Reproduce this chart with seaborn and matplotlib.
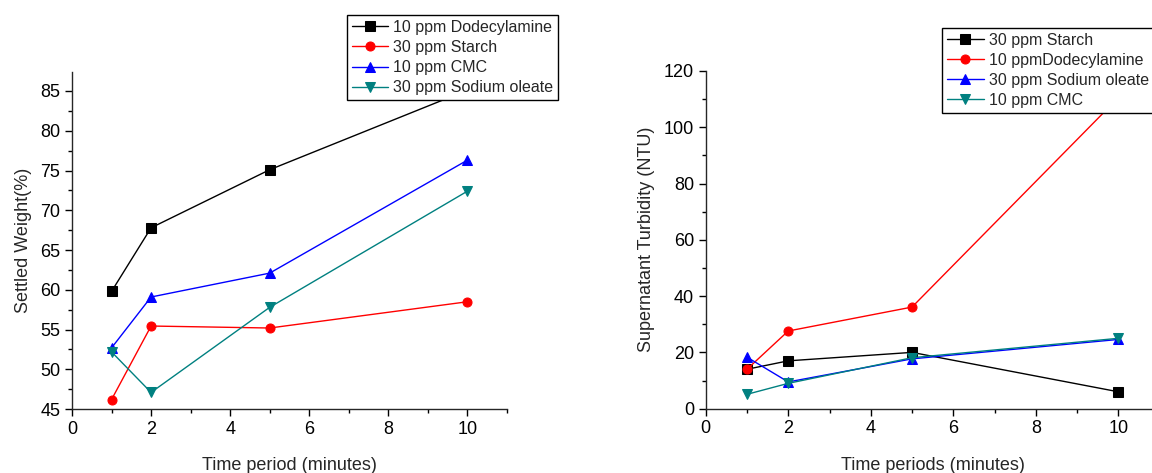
import matplotlib
matplotlib.use("Agg")
import matplotlib.pyplot as plt
import seaborn as sns
import pandas as pd
from matplotlib.ticker import MultipleLocator

sns.set_theme(style="ticks")
plt.rcParams['font.family'] = ['Liberation Sans', 'DejaVu Sans']

time = [1, 2, 5, 10]

# Left panel: settled weight (%)
left_labels = ["10 ppm Dodecylamine", "30 ppm Starch", "10 ppm CMC", "30 ppm Sodium oleate"]
left_dodecylamine = [59.8, 67.8, 75.1, 85.1]
left_starch = [46.2, 55.45, 55.2, 58.5]
left_cmc = [52.7, 59.1, 62.1, 76.3]
left_oleate = [52.2, 47.1, 57.8, 72.4]

# Right panel: supernatant turbidity (NTU)
right_labels = ["30 ppm Starch", "10 ppmDodecylamine", "30 ppm Sodium oleate", "10 ppm CMC"]
right_starch = [14.0, 17.0, 20.0, 6.0]
right_dodecylamine = [14.0, 27.6, 36.1, 110.5]
right_oleate = [18.3, 9.5, 17.7, 24.6]
right_cmc = [5.1, 9.0, 18.1, 25.0]

colors = ["#000000", "#FF0000", "#0000FF", "#008080"]
markers = ["s", "o", "^", "v"]

fig = plt.figure(figsize=(11.52, 4.73), dpi=100)
ax1 = fig.add_axes([0.0625, 0.135, 0.3775, 0.713])
ax2 = fig.add_axes([0.6126, 0.136, 0.394, 0.714])

def draw(ax, series, labels):
    for vals, lab, c, m in zip(series, labels, colors, markers):
        df = pd.DataFrame({"t": time, "v": vals})
        sns.lineplot(data=df, x="t", y="v", ax=ax, color=c, marker=m,
                     markersize=6.5, markeredgecolor=c, linewidth=1,
                     label=lab, legend=False, clip_on=True)

draw(ax1, [left_dodecylamine, left_starch, left_cmc, left_oleate], left_labels)
draw(ax2, [right_starch, right_dodecylamine, right_oleate, right_cmc], right_labels)

tick_fs = 13
for ax in (ax1, ax2):
    ax.spines['top'].set_visible(False)
    ax.spines['right'].set_visible(False)
    ax.spines['left'].set_linewidth(1)
    ax.spines['bottom'].set_linewidth(1)
    ax.set_xlim(0, 11)
    ax.xaxis.set_major_locator(MultipleLocator(2))
    ax.xaxis.set_minor_locator(MultipleLocator(1))
    ax.tick_params(axis='both', which='major', direction='out', length=5, width=1,
                   labelsize=tick_fs, color='black', labelcolor='black')
    ax.tick_params(axis='both', which='minor', direction='out', length=3, width=1, color='black')
    ax.set_facecolor('white')

ax1.set_ylim(45, 87.4)
ax1.yaxis.set_major_locator(MultipleLocator(5))
ax1.yaxis.set_minor_locator(MultipleLocator(2.5))
ax1.set_xlabel("Time period (minutes)", fontsize=13, labelpad=14)
ax1.set_ylabel("Settled Weight(%)", fontsize=13, labelpad=6)

ax2.set_ylim(0, 120)
ax2.yaxis.set_major_locator(MultipleLocator(20))
ax2.yaxis.set_minor_locator(MultipleLocator(10))
ax2.set_xlabel("Time periods (minutes)", fontsize=13, labelpad=14)
ax2.set_ylabel("Supernatant Turbidity (NTU)", fontsize=13, labelpad=6)

for ax, anchor in ((ax1, (0.301, 0.968)), (ax2, (0.818, 0.941))):
    h, l = ax.get_legend_handles_labels()
    leg = ax.legend(h, l, loc='upper left', bbox_to_anchor=anchor,
                    bbox_transform=fig.transFigure, fontsize=11.5,
                    frameon=True, fancybox=False, framealpha=1, edgecolor='black',
                    borderpad=0.3, labelspacing=0.32, handlelength=2.3,
                    handletextpad=0.3, borderaxespad=0)
    leg.get_frame().set_linewidth(1)
    leg.set_zorder(10)

fig.savefig("out.png", dpi=100, facecolor='white')
